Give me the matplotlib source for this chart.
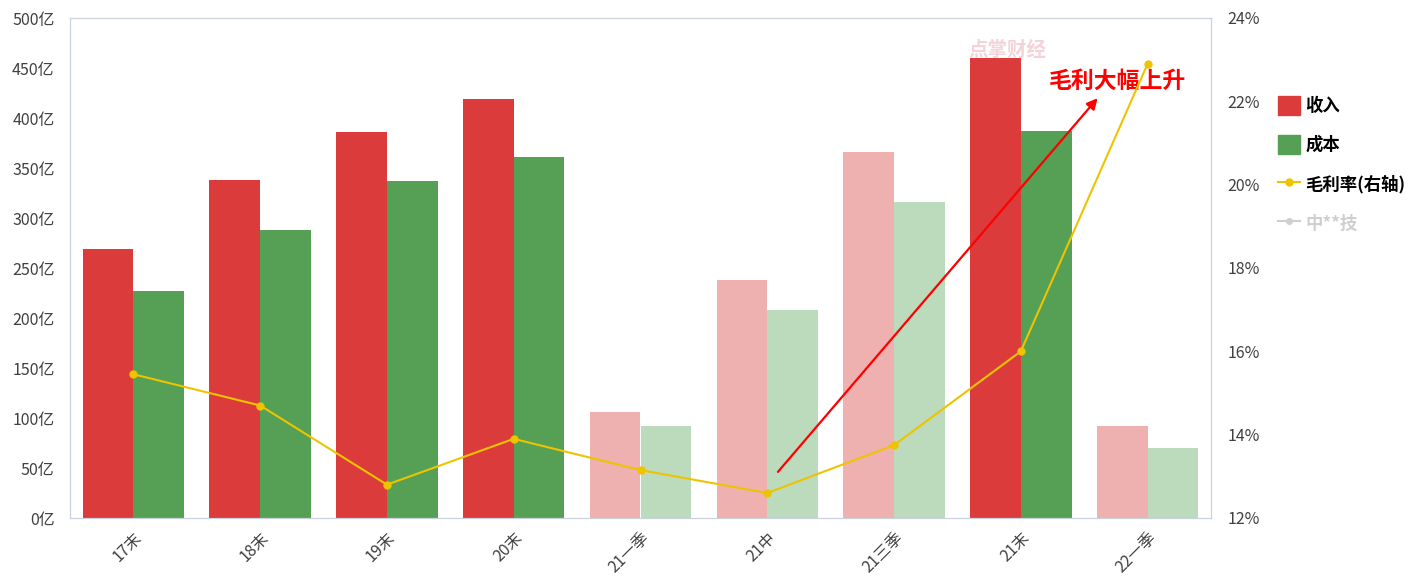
import matplotlib.pyplot as plt
import numpy as np
from matplotlib.lines import Line2D
from matplotlib.patches import Patch

plt.rcParams['font.family'] = ['Noto Sans CJK SC', 'DejaVu Sans']

# data
categories = ["17末", "18末", "19末", "20末", "21一季", "21中", "21三季", "21末", "22一季"]
revenue = [269, 338, 386, 419, 106, 238, 366, 460, 92]   # 亿
cost = [227, 288, 337, 361, 92, 208, 316, 387, 70]       # 亿
margin = [15.45, 14.7, 12.8, 13.9, 13.15, 12.6, 13.75, 16.0, 22.9]  # %
full_year = [True, True, True, True, False, False, False, True, False]

RED, GREEN = "#DC3B3B", "#55A055"
RED_LIGHT, GREEN_LIGHT = "#EFB0B0", "#BCDABC"
YELLOW = "#EEC300"
FRAME = "#C9D2DE"

fig = plt.figure(figsize=(14.15, 5.87), dpi=100)
ax = fig.add_axes([70 / 1415, 69 / 587, 1141 / 1415, 500 / 587])
ax2 = ax.twinx()

x = np.arange(len(categories))
w = 0.4
rev_colors = [RED if f else RED_LIGHT for f in full_year]
cost_colors = [GREEN if f else GREEN_LIGHT for f in full_year]
ax.bar(x - w / 2, revenue, w, color=rev_colors, zorder=2)
ax.bar(x + w / 2, cost, w, color=cost_colors, zorder=2)

ax.set_xlim(-0.5, len(categories) - 0.5)
ax.set_ylim(0, 500)
ax.set_yticks(range(0, 501, 50))
ax.set_yticklabels([f"{v}亿" for v in range(0, 501, 50)])
ax.set_xticks(x)
ax.set_xticklabels(categories, rotation=45, ha="right", rotation_mode="anchor")

ax2.plot(x, margin, color=YELLOW, marker="o", markersize=5, linewidth=1.5, zorder=3)
ax2.set_ylim(12, 24)
ax2.set_yticks(range(12, 25, 2))
ax2.set_yticklabels([f"{v}%" for v in range(12, 25, 2)])

for a in (ax, ax2):
    a.tick_params(length=0, labelsize=11.5, labelcolor="#404040")
    for s in a.spines.values():
        s.set_color(FRAME)
ax.tick_params(axis="y", pad=11)
ax.tick_params(axis="x", pad=8)
ax2.tick_params(axis="y", pad=12)
ax.set_zorder(ax2.get_zorder() - 1)
ax.patch.set_visible(True)
ax2.patch.set_visible(False)

# arrow and annotation
ax.annotate("", xy=(7.62, 422), xytext=(5.07, 44),
            arrowprops=dict(arrowstyle="-|>", color="#FF0000", lw=1.6,
                            mutation_scale=16), zorder=5)
ax.text(7.76, 437, "毛利大幅上升", color="#FF0000", fontsize=16.5,
        fontweight="bold", va="center", ha="center", zorder=5)

# watermark
fig.text(1007 / 1415, 1 - 50 / 587, "点掌财经", color="#F3D3D8", fontsize=14,
         fontweight="bold", va="center", ha="center")

handles = [
    Patch(color=RED, label="收入"),
    Patch(color=GREEN, label="成本"),
    Line2D([], [], color=YELLOW, marker="o", markersize=5, lw=1.5, label="毛利率(右轴)"),
    Line2D([], [], color="#CFCFCF", marker="o", markersize=4, lw=1.5, label="中**技"),
]
leg = fig.legend(handles=handles, loc="upper left", bbox_to_anchor=(1262 / 1415, 1 - 80 / 587),
                 frameon=False, handlelength=1.3, handleheight=1.3, labelspacing=1.15,
                 handletextpad=0.3, prop={"size": 12.5, "weight": "bold"})
leg.get_texts()[3].set_color("#CFCFCF")

fig.savefig("out.png", dpi=100)
